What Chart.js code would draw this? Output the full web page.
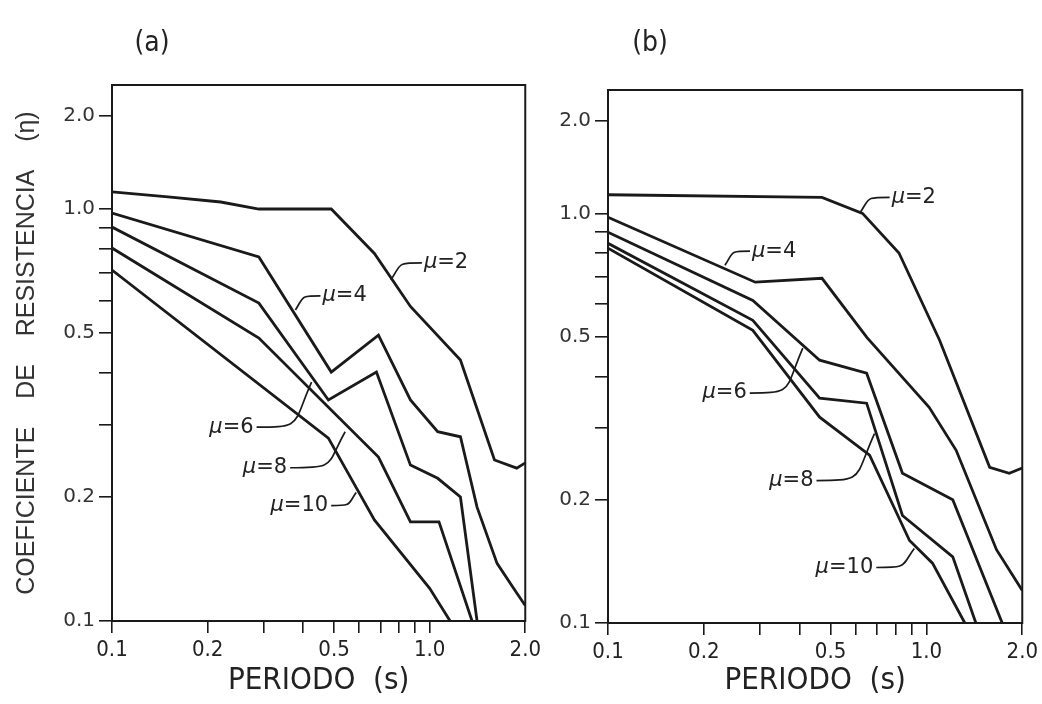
<!DOCTYPE html>
<html>
<head>
<meta charset="utf-8">
<script src="https://cdn.jsdelivr.net/npm/chart.js@4.4.1/dist/chart.umd.min.js"></script>
<style>
  html, body { margin: 0; padding: 0; background: #fff; }
  #wrap { position: relative; width: 1042px; height: 704px; overflow: hidden; }
  canvas { position: absolute; top: 0; }
  #chartA { left: 0; }
  #chartB { left: 540px; }
</style>
</head>
<body>
<div id="wrap">
  <canvas id="chartA" width="545" height="704"></canvas>
  <canvas id="chartB" width="502" height="704"></canvas>
</div>
<script>
// (a) periodo T (s) y coeficiente de resistencia para cada ductilidad
var mu2aT   = [0.1, 0.15, 0.22, 0.29, 0.49, 0.67, 0.87, 1.25, 1.6, 1.88, 2.0];
var mu2aEta = [1.10, 1.07, 1.04, 1.0, 1.0, 0.78, 0.58, 0.43, 0.246, 0.235, 0.242];
var mu4aT   = [0.1, 0.29, 0.49, 0.69, 0.87, 1.06, 1.25, 1.41, 1.63, 1.88, 2.0];
var mu4aEta = [0.978, 0.765, 0.402, 0.494, 0.344, 0.288, 0.280, 0.189, 0.138, 0.117, 0.109];
var mu6aT   = [0.1, 0.29, 0.48, 0.68, 0.87, 1.06, 1.25, 1.41];
var mu6aEta = [0.904, 0.591, 0.344, 0.402, 0.239, 0.222, 0.20, 0.1];
var mu8aT   = [0.1, 0.29, 0.69, 0.87, 1.07, 1.36];
var mu8aEta = [0.804, 0.486, 0.250, 0.174, 0.174, 0.1];
var mu10aT   = [0.1, 0.48, 0.67, 1.0, 1.16];
var mu10aEta = [0.711, 0.278, 0.176, 0.120, 0.1];

// (b)
var mu2bT   = [0.1, 0.47, 0.63, 0.82, 1.10, 1.58, 1.82, 2.0];
var mu2bEta = [1.11, 1.094, 1.0, 0.80, 0.49, 0.240, 0.232, 0.239];
var mu4bT   = [0.1, 0.29, 0.47, 0.65, 1.02, 1.24, 1.66, 2.0];
var mu4bEta = [0.978, 0.679, 0.694, 0.498, 0.336, 0.264, 0.151, 0.120];
var mu6bT   = [0.1, 0.285, 0.462, 0.649, 0.841, 1.21, 1.73];
var mu6bEta = [0.899, 0.613, 0.438, 0.407, 0.232, 0.200, 0.1];
var mu8bT   = [0.1, 0.285, 0.462, 0.649, 0.841, 1.21, 1.43];
var mu8bEta = [0.845, 0.548, 0.354, 0.344, 0.183, 0.145, 0.1];
var mu10bT   = [0.1, 0.285, 0.462, 0.663, 0.885, 1.045, 1.32];
var mu10bEta = [0.822, 0.518, 0.318, 0.257, 0.159, 0.140, 0.1];

// marcas de los ejes (escala log)
var xTickValues = [0.1, 0.2, 0.3, 0.4, 0.5, 0.6, 0.7, 0.8, 0.9, 1.0, 2.0];
var xTickText   = ['0.1', '0.2', '', '', '0.5', '', '', '', '', '1.0', '2.0'];
var yTickValues = [0.1, 0.2, 0.3, 0.4, 0.5, 0.6, 0.7, 0.8, 0.9, 1.0, 1.68];
var yTickText   = ['0.1', '0.2', '', '', '0.5', '', '', '', '', '1.0', '2.0'];

// etiquetas mu: punto sobre la curva + desplazamiento del texto
var etiquetasA = [
  { mu: '2',  T: 0.755, eta: 0.673, dx: 31,  dy: -17 },
  { mu: '4',  T: 0.378, eta: 0.569, dx: 25,  dy: -14 },
  { mu: '6',  T: 0.425, eta: 0.380, dx: -55, dy: 45 },
  { mu: '8',  T: 0.542, eta: 0.288, dx: -55, dy: 36 },
  { mu: '10', T: 0.587, eta: 0.205, dx: -25, dy: 13 }
];
var etiquetasB = [
  { mu: '2',  T: 0.617, eta: 1.0,   dx: 30,  dy: -16 },
  { mu: '4',  T: 0.233, eta: 0.747, dx: 25,  dy: -14 },
  { mu: '6',  T: 0.409, eta: 0.469, dx: -53, dy: 45 },
  { mu: '8',  T: 0.687, eta: 0.290, dx: -58, dy: 47 },
  { mu: '10', T: 0.916, eta: 0.152, dx: -38, dy: 19 }
];

var NARROW = "'Liberation Sans Narrow', 'DejaVu Sans Condensed', 'Liberation Sans', sans-serif";
var WIDE = "'DejaVu Sans', 'Liberation Sans', sans-serif";
var INK = '#1a1a1a';

function serie(ts, etas) {
  return {
    data: ts.map(function (t, i) { return { x: t, y: etas[i] }; }),
    borderColor: INK,
    borderWidth: 2.8,
    pointRadius: 0,
    tension: 0,
    fill: false
  };
}

var marco = {
  id: 'marco',
  afterDatasetsDraw: function (chart, args, opts) {
    var ctx = chart.ctx, a = chart.chartArea;
    var sx = chart.scales.x, sy = chart.scales.y;
    ctx.save();
    ctx.strokeStyle = INK;
    ctx.lineWidth = 2;
    ctx.strokeRect(a.left, a.top, a.right - a.left, a.bottom - a.top);

    // titulo del panel
    ctx.fillStyle = '#222';
    ctx.font = '28px ' + NARROW;
    ctx.textAlign = 'center';
    ctx.textBaseline = 'middle';
    ctx.fillText(opts.panel, a.left + opts.panelDx, 44);

    // etiquetas con linea de referencia
    ctx.lineWidth = 1.7;
    ctx.textBaseline = 'middle';
    opts.etiquetas.forEach(function (e) {
      var px = sx.getPixelForValue(e.T), py = sy.getPixelForValue(e.eta);
      var qx = px + e.dx, qy = py + e.dy;
      ctx.beginPath();
      ctx.moveTo(px, py);
      ctx.bezierCurveTo(px + (qx - px) * 0.35, qy + (py - qy) * 0.05,
                        px + (qx - px) * 0.15, qy, qx, qy);
      ctx.stroke();

      ctx.font = 'oblique 21px ' + WIDE;
      var wMu = ctx.measureText('\u03bc').width;
      ctx.font = '21px ' + WIDE;
      var resto = '=' + e.mu;
      var wResto = ctx.measureText(resto).width;
      var x0 = e.dx > 0 ? qx + 2 : qx - 3 - wMu - wResto;
      ctx.textAlign = 'left';
      ctx.font = 'oblique 21px ' + WIDE;
      ctx.fillText('\u03bc', x0, qy);
      ctx.font = '21px ' + WIDE;
      ctx.fillText(resto, x0 + wMu, qy);
    });
    ctx.restore();
  }
};

function panel(id, datasets, cfg) {
  return new Chart(document.getElementById(id), {
    type: 'line',
    data: { datasets: datasets },
    options: {
      responsive: false,
      animation: false,
      events: [],
      layout: { padding: { top: cfg.top, right: cfg.right, left: 0, bottom: 0 } },
      plugins: {
        legend: { display: false },
        tooltip: { enabled: false },
        marco: { panel: cfg.panel, panelDx: cfg.panelDx, etiquetas: cfg.etiquetas }
      },
      scales: {
        x: {
          type: 'logarithmic',
          min: 0.1,
          max: 2.0,
          afterBuildTicks: function (s) { s.ticks = xTickValues.map(function (v) { return { value: v }; }); },
          afterFit: function (s) { s.height = cfg.xHeight; },
          ticks: {
            autoSkip: false,
            maxRotation: 0,
            padding: 4,
            color: '#222',
            font: { family: NARROW, size: 22 },
            callback: function (v, i) { return xTickText[i]; }
          },
          grid: { drawOnChartArea: false, tickLength: 12, color: INK, lineWidth: 1.6 },
          border: { color: INK, width: 2 },
          title: {
            display: true,
            text: 'PERIODO  (s)',
            color: '#222',
            font: { family: NARROW, size: 31 },
            padding: { top: 0, bottom: 4 }
          }
        },
        y: {
          type: 'logarithmic',
          min: 0.1,
          max: 2.0,
          afterBuildTicks: function (s) { s.ticks = yTickValues.map(function (v) { return { value: v }; }); },
          afterFit: function (s) { s.width = cfg.yWidth; },
          ticks: {
            autoSkip: false,
            padding: 4,
            color: '#333',
            font: { family: WIDE, size: 20 },
            callback: function (v, i) { return yTickText[i]; }
          },
          grid: { drawOnChartArea: false, tickLength: 13, color: INK, lineWidth: 1.6 },
          border: { color: INK, width: 2 },
          title: {
            display: cfg.yTitle,
            text: 'COEFICIENTE    DE    RESISTENCIA    (\u03b7)',
            color: '#333',
            font: { family: "'Liberation Sans', sans-serif", size: 25 },
            padding: { top: 12, bottom: 0 }
          }
        }
      }
    },
    plugins: [marco]
  });
}

panel('chartA', [
  serie(mu2aT, mu2aEta), serie(mu4aT, mu4aEta), serie(mu6aT, mu6aEta),
  serie(mu8aT, mu8aEta), serie(mu10aT, mu10aEta)
], { top: 85, right: 17, yWidth: 112, xHeight: 83, yTitle: true, panel: '(a)', panelDx: 40, etiquetas: etiquetasA });

panel('chartB', [
  serie(mu2bT, mu2bEta), serie(mu4bT, mu4bEta), serie(mu6bT, mu6bEta),
  serie(mu8bT, mu8bEta), serie(mu10bT, mu10bEta)
], { top: 90, right: 19, yWidth: 68, xHeight: 81, yTitle: false, panel: '(b)', panelDx: 42, etiquetas: etiquetasB });
</script>
</body>
</html>
